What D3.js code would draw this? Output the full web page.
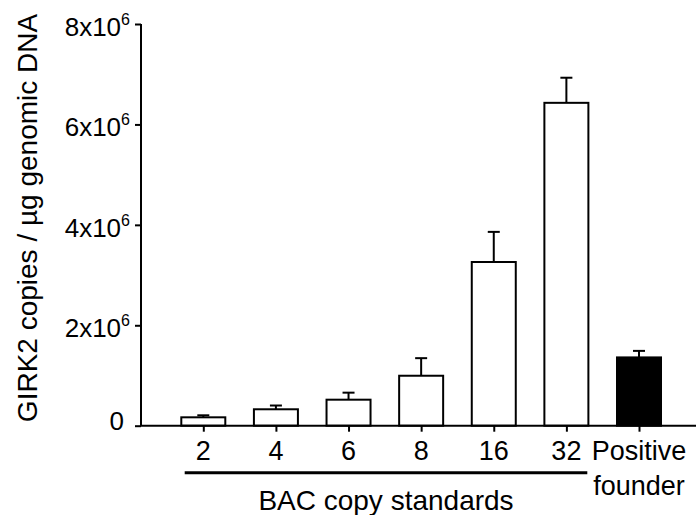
<!DOCTYPE html>
<html>
<head>
<meta charset="utf-8">
<script src="https://cdn.jsdelivr.net/npm/d3@7"></script>
<style>
  body { margin: 0; background: #fff; }
  text { font-family: Arial, "Liberation Sans", sans-serif; fill: #000; }
</style>
</head>
<body>
<div id="chart"></div>
<script>
// data
var categories = ["2", "4", "6", "8", "16", "32", "Positive founder"];
var means = [0.167e6, 0.327e6, 0.518e6, 0.995e6, 3.26e6, 6.43e6, 1.36e6];
var errors = [0.04e6, 0.075e6, 0.14e6, 0.35e6, 0.6e6, 0.5e6, 0.13e6];
var fills = ["#fff", "#fff", "#fff", "#fff", "#fff", "#fff", "#000"];
var yTicks = [0, 2e6, 4e6, 6e6, 8e6];

var width = 696, height = 515;

var svg = d3.select("#chart").append("svg")
    .attr("width", width)
    .attr("height", height);

var y = d3.scaleLinear().domain([0, 8e6]).range([425.7, 24]);
var x = d3.scalePoint().domain(categories).range([203.3, 639]);
var barW = 44;

// bars
svg.selectAll("rect.bar")
    .data(means)
    .enter().append("rect")
    .attr("class", "bar")
    .attr("x", (d, i) => x(categories[i]) - barW / 2)
    .attr("y", d => y(d))
    .attr("width", barW)
    .attr("height", d => y(0) - y(d))
    .style("fill", (d, i) => fills[i])
    .style("stroke", "#000")
    .style("stroke-width", 2);

// error bars (upper only)
var eb = svg.selectAll("g.err")
    .data(means)
    .enter().append("g")
    .attr("class", "err");
eb.append("line")
    .attr("x1", (d, i) => x(categories[i]))
    .attr("x2", (d, i) => x(categories[i]))
    .attr("y1", d => y(d))
    .attr("y2", (d, i) => y(d + errors[i]))
    .style("stroke", "#000").style("stroke-width", 2);
eb.append("line")
    .attr("x1", (d, i) => x(categories[i]) - 6)
    .attr("x2", (d, i) => x(categories[i]) + 6)
    .attr("y1", (d, i) => y(d + errors[i]))
    .attr("y2", (d, i) => y(d + errors[i]))
    .style("stroke", "#000").style("stroke-width", 2);

// y axis
var yAxis = svg.append("g")
    .attr("transform", "translate(141,0)")
    .call(d3.axisLeft(y).tickValues(yTicks).tickSize(6).tickFormat(""));
yAxis.select(".domain").attr("d", "M0," + y(8e6) + "V" + y(0)).style("stroke-width", 2);
yAxis.selectAll(".tick line").style("stroke-width", 2);

var yl = svg.selectAll("text.ytick")
    .data(yTicks)
    .enter().append("text")
    .attr("class", "ytick")
    .attr("x", d => d === 0 ? 124 : 130)
    .attr("y", d => d === 0 ? y(d) + 4 : y(d) + 12)
    .attr("text-anchor", "end")
    .style("font-size", "26px");
yl.each(function (d) {
    var t = d3.select(this);
    if (d === 0) { t.text("0"); return; }
    t.append("tspan").text((d / 1e6) + "x10");
    t.append("tspan").attr("dy", -11).style("font-size", "16px").text("6");
});

// x axis
var xAxis = svg.append("g")
    .attr("transform", "translate(0," + y(0) + ")")
    .call(d3.axisBottom(x).tickSize(6).tickFormat(""));
xAxis.select(".domain").attr("d", "M140,0H696").style("stroke-width", 2);
xAxis.selectAll(".tick line").style("stroke-width", 2);

svg.selectAll("text.xtick")
    .data(categories)
    .enter().append("text")
    .attr("class", "xtick")
    .attr("x", d => x(d))
    .attr("y", 460)
    .attr("text-anchor", "middle")
    .style("font-size", "27px")
    .each(function (d) {
        var parts = d.split(" ");
        d3.select(this).selectAll("tspan")
            .data(parts)
            .enter().append("tspan")
            .attr("x", x(d))
            .attr("dy", (p, j) => j === 0 ? 0 : 35)
            .text(p => p);
    });

// bracket for BAC standards
svg.append("line")
    .attr("x1", 184.7).attr("x2", 587.3)
    .attr("y1", 472.7).attr("y2", 472.7)
    .style("stroke", "#000").style("stroke-width", 3);
svg.append("text")
    .attr("x", 386).attr("y", 510)
    .attr("text-anchor", "middle")
    .style("font-size", "28px")
    .text("BAC copy standards");

// y title
svg.append("text")
    .attr("transform", "translate(37,218) rotate(-90)")
    .attr("text-anchor", "middle")
    .style("font-size", "28px")
    .text("GIRK2 copies / µg genomic DNA");
</script>
</body>
</html>
